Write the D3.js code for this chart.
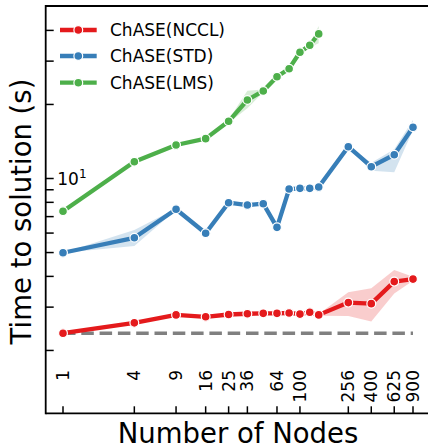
<!DOCTYPE html>
<html>
<head>
<meta charset="utf-8">
<script src="https://cdn.jsdelivr.net/npm/d3@7"></script>
<style>
  body { margin: 0; background: #fff; }
  svg { display: block; font-family: "DejaVu Sans", sans-serif; }
</style>
</head>
<body>
<div id="vizcont"></div>
<script>
// node counts (x values)
var nodes = [1, 4, 9, 16, 25, 36, 49, 64, 81, 100, 121, 144, 256, 400, 625, 900];
var lmsNodes = [1, 4, 9, 16, 25, 36, 49, 64, 81, 100, 121, 144];
var xTicks = [1, 4, 9, 16, 25, 36, 64, 100, 256, 400, 625, 900];
var yTicks = [2, 3, 4, 5, 6, 7, 8, 9, 10, 20, 30, 40];

// time to solution (s), mean and band
var nccl   = [2.35, 2.59, 2.79, 2.74, 2.80, 2.82, 2.83, 2.83, 2.84, 2.81, 2.86, 2.79, 3.13, 3.10, 3.81, 3.90];
var ncclLo = [2.35, 2.57, 2.77, 2.72, 2.78, 2.79, 2.80, 2.80, 2.81, 2.79, 2.84, 2.77, 2.76, 2.62, 3.41, 3.84];
var ncclHi = [2.35, 2.61, 2.81, 2.76, 2.82, 2.85, 2.86, 2.86, 2.87, 2.83, 2.88, 2.81, 3.45, 3.58, 4.25, 3.99];

var std   = [4.99, 5.74, 7.50, 5.99, 7.97, 7.80, 7.90, 6.33, 9.06, 9.12, 9.12, 9.23, 13.47, 11.17, 12.49, 16.15];
var stdLo = [4.99, 5.32, 7.45, 5.95, 7.92, 7.75, 7.85, 6.28, 9.00, 9.06, 9.06, 9.17, 13.40, 10.76, 10.60, 15.74];
var stdHi = [4.99, 6.18, 7.55, 6.03, 8.02, 7.85, 7.95, 6.38, 9.12, 9.18, 9.18, 9.29, 13.55, 11.60, 13.14, 17.30];

var lms   = [7.36, 11.70, 13.68, 14.52, 17.08, 20.85, 22.69, 25.93, 27.95, 32.6, 34.8, 38.7];
var lmsLo = [7.36, 11.60, 13.55, 14.40, 16.80, 19.30, 22.40, 25.60, 27.60, 32.0, 34.2, 35.5];
var lmsHi = [7.36, 11.80, 13.80, 14.65, 17.35, 22.75, 23.00, 26.30, 28.30, 33.2, 35.4, 41.7];

var names = ["ChASE(NCCL)", "ChASE(STD)", "ChASE(LMS)"];
var colors = ["#e41a1c", "#377eb8", "#4daf4a"];

function draw_chart() {
  var width = 428, height = 447;
  var left = 45.7, top = 6, bottom = 413.3;

  var svg = d3.select("#vizcont")
    .append("svg")
    .attr("width", width)
    .attr("height", height);

  // log scales for both axes
  var x = d3.scaleLog().domain([1, 900]).range([63, 413]);
  var y = d3.scaleLog().domain([1, 10]).range([178.5 + 246, 178.5]);

  var series = [
    {name: names[0], color: colors[0], xs: nodes, v: nccl, lo: ncclLo, hi: ncclHi},
    {name: names[1], color: colors[1], xs: nodes, v: std, lo: stdLo, hi: stdHi},
    {name: names[2], color: colors[2], xs: lmsNodes, v: lms, lo: lmsLo, hi: lmsHi}
  ];

  // ideal scaling reference line
  svg.append("line")
    .attr("x1", x(nodes[0]))
    .attr("x2", x(nodes[nodes.length - 1]))
    .attr("y1", y(nccl[0]))
    .attr("y2", y(nccl[0]))
    .attr("stroke", "#808080")
    .attr("stroke-width", 3.5)
    .attr("stroke-dasharray", "12.5,5.8");

  var area = d3.area()
    .x(function(d) { return x(d.n); })
    .y0(function(d) { return y(d.lo); })
    .y1(function(d) { return y(d.hi); });

  var line = d3.line()
    .x(function(d) { return x(d.n); })
    .y(function(d) { return y(d.v); });

  series.forEach(function(s) {
    var pts = s.xs.map(function(n, i) {
      return {n: n, v: s.v[i], lo: s.lo[i], hi: s.hi[i]};
    });
    var g = svg.append("g");
    g.append("path")
      .datum(pts)
      .attr("d", area)
      .attr("fill", s.color)
      .attr("fill-opacity", 0.22);
    g.append("path")
      .datum(pts)
      .attr("d", line)
      .attr("fill", "none")
      .attr("stroke", s.color)
      .attr("stroke-width", 4.3)
      .attr("stroke-linejoin", "round");
    g.selectAll("circle")
      .data(pts)
      .enter()
      .append("circle")
      .attr("cx", function(d) { return x(d.n); })
      .attr("cy", function(d) { return y(d.v); })
      .attr("r", 4.4)
      .attr("fill", s.color)
      .attr("stroke", "#fff")
      .attr("stroke-width", 1.2);
  });

  // spines
  var spine = svg.append("g").attr("stroke", "#000").attr("stroke-width", 1.8);
  spine.append("line").attr("x1", left).attr("x2", left).attr("y1", top - 0.9).attr("y2", bottom + 0.9);
  spine.append("line").attr("x1", left).attr("x2", width).attr("y1", top).attr("y2", top);
  spine.append("line").attr("x1", left).attr("x2", width).attr("y1", bottom).attr("y2", bottom);

  // x ticks pointing in, labels rotated inside the plot
  var xt = svg.append("g");
  xt.selectAll("line")
    .data(xTicks)
    .enter()
    .append("line")
    .attr("x1", function(d) { return x(d); })
    .attr("x2", function(d) { return x(d); })
    .attr("y1", bottom)
    .attr("y2", bottom - 7)
    .attr("stroke", "#000")
    .attr("stroke-width", 1.5);
  xt.selectAll("text")
    .data(xTicks)
    .enter()
    .append("text")
    .attr("transform", function(d) { return "translate(" + x(d) + ",370) rotate(-90)"; })
    .attr("text-anchor", "end")
    .attr("dy", "0.35em")
    .style("font-size", "17px")
    .text(function(d) { return d; });

  // y ticks pointing in
  var yt = svg.append("g");
  yt.selectAll("line")
    .data(yTicks)
    .enter()
    .append("line")
    .attr("x1", left)
    .attr("x2", left + 8)
    .attr("y1", function(d) { return y(d); })
    .attr("y2", function(d) { return y(d); })
    .attr("stroke", "#000")
    .attr("stroke-width", 1.5);

  var lab = yt.append("text")
    .attr("x", 57.3)
    .attr("y", y(10) + 6.5)
    .style("font-size", "17px");
  lab.append("tspan").text("10");
  lab.append("tspan").attr("dy", -7.5).style("font-size", "12px").text("1");

  // axis titles
  svg.append("text")
    .attr("x", 238)
    .attr("y", 443)
    .attr("text-anchor", "middle")
    .style("font-size", "27.5px")
    .text("Number of Nodes");
  svg.append("text")
    .attr("transform", "translate(31,211.5) rotate(-90)")
    .attr("text-anchor", "middle")
    .style("font-size", "27.5px")
    .text("Time to solution (s)");

  // legend
  var rows = [30, 56, 82.7];
  var leg = svg.append("g");
  series.forEach(function(s, i) {
    leg.append("line")
      .attr("x1", 60).attr("x2", 96.7)
      .attr("y1", rows[i]).attr("y2", rows[i])
      .attr("stroke", s.color)
      .attr("stroke-width", 4.3);
    leg.append("circle")
      .attr("cx", 78.3).attr("cy", rows[i])
      .attr("r", 4.4)
      .attr("fill", s.color)
      .attr("stroke", "#fff")
      .attr("stroke-width", 1.2);
    leg.append("text")
      .attr("x", 110)
      .attr("y", rows[i])
      .attr("dy", "0.35em")
      .style("font-size", "17px")
      .text(s.name);
  });
}

draw_chart();
</script>
</body>
</html>
